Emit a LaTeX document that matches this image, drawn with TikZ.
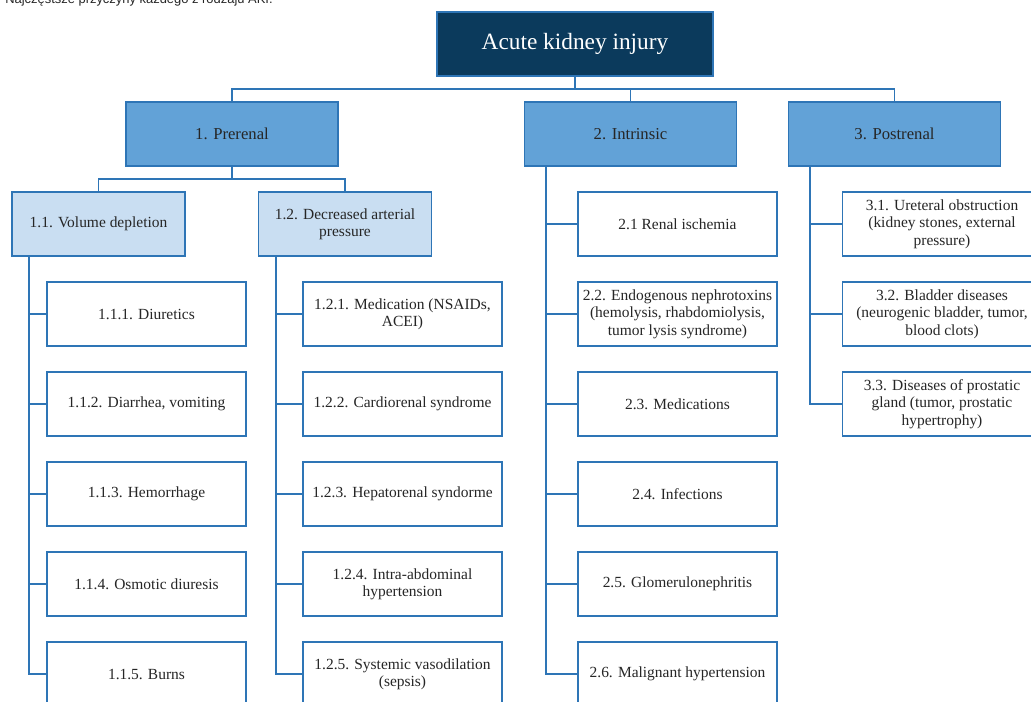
\documentclass[tikz,border=0pt]{standalone}
\usepackage{fontspec}
\setmainfont{Liberation Serif}
\newfontfamily\capfont{Liberation Sans}
\definecolor{akinavy}{HTML}{0B3A5C}
\definecolor{akiline}{HTML}{2E75B6}
\definecolor{akimid}{HTML}{62A2D7}
\definecolor{akilight}{HTML}{C9DEF2}
\definecolor{akitext}{HTML}{262626}
\begin{document}
\begin{tikzpicture}[x=0.75pt,y=-0.75pt]
            \tikzstyle{box}=[draw=akiline,line width=1.1pt,align=center,text=akitext,inner sep=1pt,font=\fontsize{11.6}{13}\selectfont]
            \tikzstyle{racine}=[box,fill=akinavy,text=white,minimum width=207pt,minimum height=48pt,font=\fontsize{17.5}{20}\selectfont]
            \tikzstyle{type}=[box,fill=akimid,minimum width=159pt,minimum height=48pt,font=\fontsize{12.5}{14}\selectfont]
            \tikzstyle{groupe}=[box,fill=akilight,minimum width=130pt,minimum height=48pt]
            \tikzstyle{cause}=[box,fill=white,minimum width=149.25pt,minimum height=48pt]
            \tikzstyle{lien}=[draw=akiline,line width=1.1pt]
            \useasboundingbox (0,0) rectangle (1031,702);
            \clip (0,0) rectangle (1031,702);
            \node[anchor=base west,inner sep=0pt,text=akitext,font=\capfont\fontsize{9.7}{11}\selectfont] (titre) at (5,4) {Najczęstsze przyczyny każdego z rodzaju AKI.};
            % niveaux superieurs
            \node[racine] (aki) at (575,44) {Acute kidney injury};
            \node[type] (pre) at (232,134) {1. Prerenal};
            \node[type] (intr) at (630.5,134) {2. Intrinsic};
            \node[type] (post) at (894.5,134) {3. Postrenal};
            \node[groupe] (vol) at (98.5,224) {1.1. Volume depletion};
            \node[groupe] (dec) at (345,224) {1.2. Decreased arterial\\pressure};
            % causes
            \node[cause] (v1) at (146.5,314) {1.1.1. Diuretics};
            \node[cause] (v2) at (146.5,404) {1.1.2. Diarrhea, vomiting};
            \node[cause] (v3) at (146.5,494) {1.1.3. Hemorrhage};
            \node[cause] (v4) at (146.5,584) {1.1.4. Osmotic diuresis};
            \node[cause] (v5) at (146.5,674) {1.1.5. Burns};
            \node[cause] (d1) at (402.5,314) {1.2.1. Medication (NSAIDs,\\ACEI)};
            \node[cause] (d2) at (402.5,404) {1.2.2. Cardiorenal syndrome};
            \node[cause] (d3) at (402.5,494) {1.2.3. Hepatorenal syndorme};
            \node[cause] (d4) at (402.5,584) {1.2.4. Intra-abdominal\\hypertension};
            \node[cause] (d5) at (402.5,674) {1.2.5. Systemic vasodilation\\(sepsis)};
            \node[cause] (i1) at (677.5,224) {2.1 Renal ischemia};
            \node[cause] (i2) at (677.5,314) {2.2. Endogenous nephrotoxins\\(hemolysis, rhabdomiolysis,\\tumor lysis syndrome)};
            \node[cause] (i3) at (677.5,404) {2.3. Medications};
            \node[cause] (i4) at (677.5,494) {2.4. Infections};
            \node[cause] (i5) at (677.5,584) {2.5. Glomerulonephritis};
            \node[cause] (i6) at (677.5,674) {2.6. Malignant hypertension};
            \node[cause] (p1) at (942,224) {3.1. Ureteral obstruction\\(kidney stones, external\\pressure)};
            \node[cause] (p2) at (942,314) {3.2. Bladder diseases\\(neurogenic bladder, tumor,\\blood clots)};
            \node[cause] (p3) at (942,404) {3.3. Diseases of prostatic\\gland (tumor, prostatic\\hypertrophy)};
            % liens
            \coordinate (bus) at (0,89);
            \coordinate (bus1) at (0,179);
            \draw[lien] (pre.north) -- (pre.north |- bus) -| (post.north);
            \draw[lien] (aki.south) -- (aki.south |- bus);
            \draw[lien] (intr.north) -- (intr.north |- bus);
            \draw[lien] (pre.south) -- (pre.south |- bus1);
            \draw[lien] (vol.north) -- (vol.north |- bus1) -| (dec.north);
            \coordinate (t1) at (29,256);
            \coordinate (t2) at (276,256);
            \coordinate (t3) at (546,166);
            \coordinate (t4) at (810,166);
            \draw[lien] (t1) |- (v1.west);
            \draw[lien] (t1) |- (v2.west);
            \draw[lien] (t1) |- (v3.west);
            \draw[lien] (t1) |- (v4.west);
            \draw[lien] (t1) |- (v5.west);
            \draw[lien] (t2) |- (d1.west);
            \draw[lien] (t2) |- (d2.west);
            \draw[lien] (t2) |- (d3.west);
            \draw[lien] (t2) |- (d4.west);
            \draw[lien] (t2) |- (d5.west);
            \draw[lien] (t3) |- (i1.west);
            \draw[lien] (t3) |- (i2.west);
            \draw[lien] (t3) |- (i3.west);
            \draw[lien] (t3) |- (i4.west);
            \draw[lien] (t3) |- (i5.west);
            \draw[lien] (t3) |- (i6.west);
            \draw[lien] (t4) |- (p1.west);
            \draw[lien] (t4) |- (p2.west);
            \draw[lien] (t4) |- (p3.west);
        \end{tikzpicture}
\end{document}
